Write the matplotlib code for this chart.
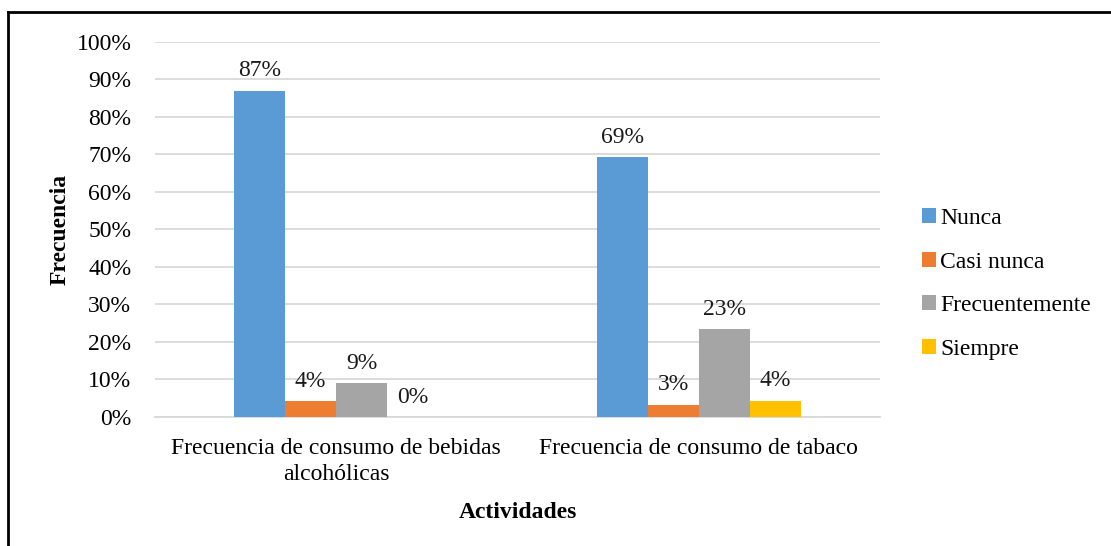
import matplotlib
matplotlib.use("Agg")
import matplotlib.pyplot as plt
import numpy as np
from matplotlib.lines import Line2D

# data
categories = ["Frecuencia de consumo de bebidas\nalcohólicas",
              "Frecuencia de consumo de tabaco"]
series = ["Nunca", "Casi nunca", "Frecuentemente", "Siempre"]
nunca = [87.0, 69.3]
casi_nunca = [4.2, 3.3]
frecuentemente = [9.0, 23.4]
siempre = [0.0, 4.3]
colors = ["#5b9bd5", "#ed7d31", "#a5a5a5", "#ffc000"]

plt.rcParams['font.family'] = ['Liberation Serif', 'DejaVu Serif']
fs = 17

fig = plt.figure(figsize=(11.11, 5.46), dpi=100)
ax = fig.add_axes([0.1395, 0.2363, 0.6526, 0.6868])

x = np.arange(len(categories))
w = 0.141
for i, (name, vals) in enumerate(zip(series, [nunca, casi_nunca, frecuentemente, siempre])):
    pos = x + (i - 1.5) * w
    ax.bar(pos, vals, width=w, color=colors[i], label=name, zorder=3)
    for xp, v in zip(pos, vals):
        ax.text(xp, v + 2.5, f"{v:.0f}%", ha='center', va='bottom', fontsize=fs, color='#1a1a1a')

ax.set_xlim(-0.5, 1.5)
ax.set_ylim(0, 100)
ax.set_yticks(np.arange(0, 101, 10))
ax.set_yticklabels([f"{t}%" for t in range(0, 101, 10)], fontsize=fs)
ax.set_xticks(x)
ax.set_xticklabels(categories, fontsize=fs, linespacing=1.35)
ax.tick_params(axis='y', length=0, pad=17)
ax.tick_params(axis='x', length=0, pad=15)
ax.grid(axis='y', color='#d9d9d9', linewidth=1.3, zorder=0)
for s in ['top', 'right', 'left']:
    ax.spines[s].set_visible(False)
ax.spines['bottom'].set_color('#d9d9d9')
ax.spines['bottom'].set_linewidth(1.3)

ax.set_ylabel("Frecuencia", fontsize=fs, fontweight='bold', labelpad=4)
ax.set_xlabel("Actividades", fontsize=fs, fontweight='bold', labelpad=12)

ax.legend(loc='center left', bbox_to_anchor=(1.029, 0.355), frameon=False,
          fontsize=fs, handlelength=0.6, handleheight=0.6, handletextpad=0.15,
          labelspacing=0.95)

# outer frame (top and left only visible)
fig.add_artist(Line2D([8/1111, 1.0], [1 - 12/546, 1 - 12/546], color='black', lw=2, transform=fig.transFigure))
fig.add_artist(Line2D([8/1111, 8/1111], [0, 1 - 12/546], color='black', lw=2, transform=fig.transFigure))

fig.savefig("out.png", dpi=100)
